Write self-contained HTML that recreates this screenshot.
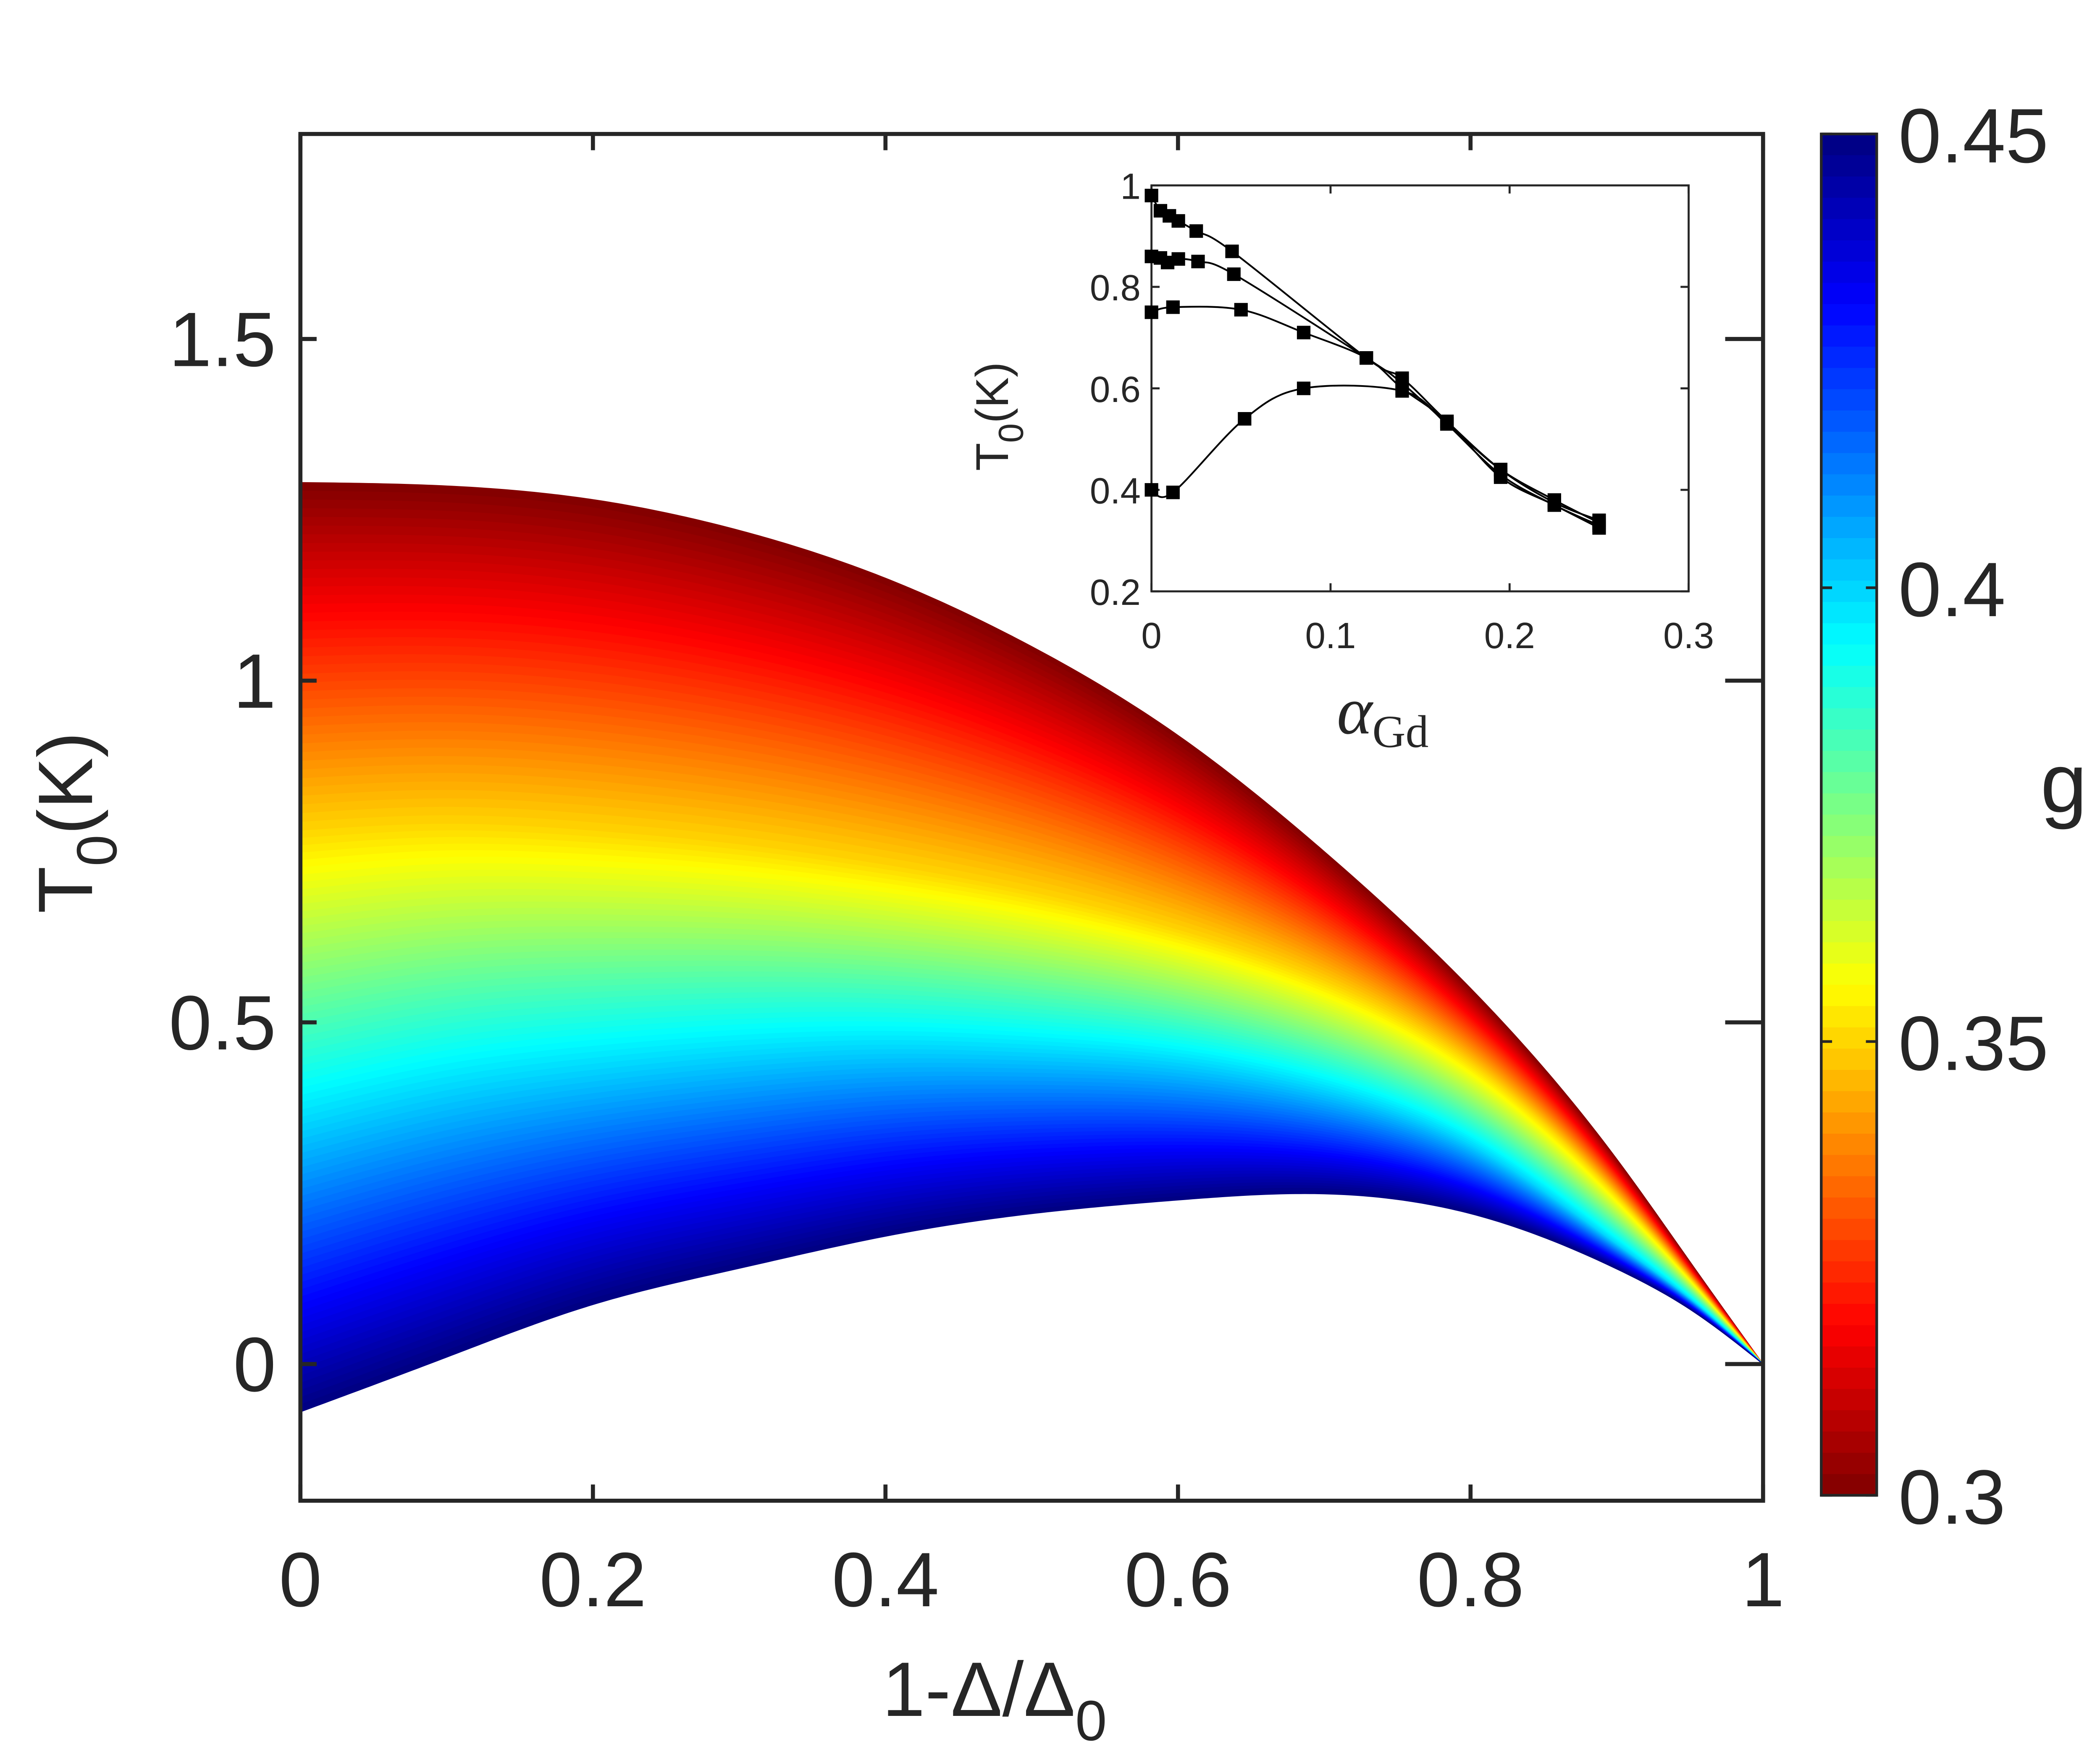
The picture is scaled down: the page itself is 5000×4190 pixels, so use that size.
<!DOCTYPE html>
<html><head><meta charset="utf-8">
<style>
html,body{margin:0;padding:0;background:#fff;}
svg{display:block;}
text{font-family:"Liberation Sans",sans-serif;fill:#262626;}
</style></head>
<body>
<svg id="chart" width="5000" height="4190" viewBox="0 0 1552 1300.6" xmlns="http://www.w3.org/2000/svg">
<g id="bands"></g>
<g id="axes"></g>
<g id="cbar"></g>
<g id="inset"></g>
</svg>
<script>
// ---- main chart data ----
const xSamples = [0,0.1,0.2,0.3,0.4,0.5,0.6,0.7,0.8,0.9,0.95,1];
const gLevels = [0.30,0.35,0.40,0.45];
const curveG30 = [1.29,1.285,1.265,1.22,1.15,1.05,0.92,0.75,0.55,0.30,0.15,0];
const curveG35 = [0.78,0.79,0.78,0.76,0.73,0.69,0.635,0.56,0.44,0.245,0.125,0];
const curveG40 = [0.35,0.40,0.43,0.45,0.46,0.455,0.44,0.40,0.32,0.175,0.095,0];
const curveG45 = [-0.07,0.01,0.087,0.14,0.187,0.22,0.24,0.249,0.22,0.139,0.08,0];
const xTicks = [0,0.2,0.4,0.6,0.8,1];
const xTickLabels = ["0","0.2","0.4","0.6","0.8","1"];
const yTicks = [0,0.5,1,1.5];
const yTickLabels = ["0","0.5","1","1.5"];
const cbTicks = [0.3,0.35,0.4,0.45];
const cbTickLabels = ["0.3","0.35","0.4","0.45"];
// ---- inset data ----
const insetXTicks = [0,0.1,0.2,0.3];
const insetXTickLabels = ["0","0.1","0.2","0.3"];
const insetYTicks = [0.2,0.4,0.6,0.8,1];
const insetYTickLabels = ["0.2","0.4","0.6","0.8","1"];
const seriesAx = [0,0.005,0.01,0.015,0.025,0.045,0.12,0.14,0.165,0.195,0.225,0.25];
const seriesAy = [0.98,0.95,0.94,0.93,0.91,0.87,0.66,0.62,0.535,0.44,0.375,0.34];
const seriesBx = [0,0.005,0.009,0.015,0.026,0.046,0.12,0.14,0.165,0.195,0.225,0.25];
const seriesBy = [0.86,0.857,0.848,0.855,0.85,0.825,0.66,0.61,0.53,0.43,0.37,0.33];
const seriesCx = [0,0.012,0.05,0.085,0.12,0.14,0.165,0.195,0.225,0.25];
const seriesCy = [0.75,0.76,0.755,0.71,0.66,0.6,0.535,0.425,0.37,0.325];
const seriesDx = [0,0.012,0.052,0.085,0.14,0.165,0.195,0.225,0.25];
const seriesDy = [0.40,0.395,0.54,0.60,0.595,0.53,0.44,0.38,0.335];

const NS="http://www.w3.org/2000/svg";
function mk(tag,attrs,parent){const e=document.createElementNS(NS,tag);for(const k in attrs)e.setAttribute(k,attrs[k]);parent.appendChild(e);return e;}
const L=222,R=1303,T=99,B=1109;
const xMin=0,xMax=1,yMin=-0.2,yMax=1.8;
const sx=v=>L+(v-xMin)/(xMax-xMin)*(R-L);
const sy=v=>B-(v-yMin)/(yMax-yMin)*(B-T);
function jet(t){
  const r=Math.min(Math.max(Math.min(4*t-1.5,-4*t+4.5),0),1);
  const g=Math.min(Math.max(Math.min(4*t-0.5,-4*t+3.5),0),1);
  const b=Math.min(Math.max(Math.min(4*t+0.5,-4*t+2.5),0),1);
  return `rgb(${Math.round(r*255)},${Math.round(g*255)},${Math.round(b*255)})`;
}
const curves=[curveG30,curveG35,curveG40,curveG45];
function curveVals(g){
  let k=0;while(k<gLevels.length-2&&g>gLevels[k+1])k++;
  const f=(g-gLevels[k])/(gLevels[k+1]-gLevels[k]);
  return curves[k].map((v,i)=>v*(1-f)+curves[k+1][i]*f);
}
function spline(xs,ys){
  const n=xs.length,h=[],a=[],l=[1],mu=[0],z=[0],c=new Array(n).fill(0),b=[],d=[];
  for(let i=0;i<n-1;i++)h[i]=xs[i+1]-xs[i];
  for(let i=1;i<n-1;i++)a[i]=3/h[i]*(ys[i+1]-ys[i])-3/h[i-1]*(ys[i]-ys[i-1]);
  for(let i=1;i<n-1;i++){l[i]=2*(xs[i+1]-xs[i-1])-h[i-1]*mu[i-1];mu[i]=h[i]/l[i];z[i]=(a[i]-h[i-1]*z[i-1])/l[i];}
  l[n-1]=1;z[n-1]=0;
  for(let j=n-2;j>=0;j--){c[j]=z[j]-mu[j]*c[j+1];b[j]=(ys[j+1]-ys[j])/h[j]-h[j]*(c[j+1]+2*c[j])/3;d[j]=(c[j+1]-c[j])/(3*h[j]);}
  return x=>{let j=0;while(j<n-2&&x>xs[j+1])j++;const dx=x-xs[j];return ys[j]+b[j]*dx+c[j]*dx*dx+d[j]*dx*dx*dx;};
}
function densePts(g,rev){
  const f=spline(xSamples,curveVals(g));const pts=[];
  for(let k=0;k<=300;k++){const x=k/300;pts.push(sx(x).toFixed(2)+','+sy(f(x)).toFixed(2));}
  return rev?pts.reverse():pts;
}
const bandsG=document.getElementById('bands');
const N=120,g0=gLevels[0],g1=gLevels[gLevels.length-1];
for(let j=0;j<N;j++){
  const ga=g0+(g1-g0)*j/N, gb=g0+(g1-g0)*(j+1)/N;
  const d='M'+densePts(ga,false).join(' L')+' L'+densePts(gb,true).join(' L')+' Z';
  const t=1-(j+0.5)/N;
  const p=mk('path',{d:d,fill:jet(t),stroke:jet(t),'stroke-width':0.6},bandsG);
  
  
}
const ax=document.getElementById('axes');
const frame=mk('rect',{x:L,y:T,width:R-L,height:B-T,fill:'none',stroke:'#262626','stroke-width':3},ax);


xTicks.forEach((v,i)=>{
  mk('line',{x1:sx(v),x2:sx(v),y1:B,y2:B-12,stroke:'#262626','stroke-width':3},ax);
  mk('line',{x1:sx(v),x2:sx(v),y1:T,y2:T+12,stroke:'#262626','stroke-width':3},ax);
  const t=mk('text',{x:sx(v),y:1187,'font-size':57,'text-anchor':'middle'},ax);
  t.textContent=xTickLabels[i];
  
  
});
yTicks.forEach((v,i)=>{
  mk('line',{x1:L,x2:L+12,y1:sy(v),y2:sy(v),stroke:'#262626','stroke-width':3},ax);
  mk('line',{x1:R,x2:R-28,y1:sy(v),y2:sy(v),stroke:'#262626','stroke-width':3},ax);
  const t=mk('text',{x:204,y:sy(v)+20,'font-size':57,'text-anchor':'end'},ax);
  t.textContent=yTickLabels[i];
  
  
});
const yl=mk('text',{x:0,y:0,'font-size':57,transform:'translate(68,675) rotate(-90)'},ax);
yl.innerHTML='T<tspan dy="18" font-size="42">0</tspan><tspan dy="-18">(K)</tspan>';


const xl=mk('text',{x:652,y:1268,'font-size':57},ax);
xl.innerHTML='1-Δ/Δ<tspan dy="18" font-size="42">0</tspan>';


// colorbar
const cb=document.getElementById('cbar');
const CL=1346,CR=1387,CT=99,CB=1105;
const cbs=v=>CB-(v-0.3)/(0.15)*(CB-CT);
const M=64;
for(let j=0;j<M;j++){
  const r=mk('rect',{x:CL,y:CT+(CB-CT)*j/M,width:CR-CL,height:(CB-CT)/M+0.6,fill:jet((j+0.5)/M)},cb);
  
  
}
mk('rect',{x:CL,y:CT,width:CR-CL,height:CB-CT,fill:'none',stroke:'#262626','stroke-width':2},cb);
cbTicks.forEach((v,i)=>{
  mk('line',{x1:CL,x2:CL+8,y1:cbs(v),y2:cbs(v),stroke:'#262626','stroke-width':2},cb);
  mk('line',{x1:CR,x2:CR-8,y1:cbs(v),y2:cbs(v),stroke:'#262626','stroke-width':2},cb);
  const t=mk('text',{x:1403,y:cbs(v)+21,'font-size':57},cb);
  t.textContent=cbTickLabels[i];
  
  
});
const gl=mk('text',{x:1508,y:600,'font-size':62},cb);
gl.textContent='g';


// inset
const ins=document.getElementById('inset');
const IL=851,IR=1248,IT=137,IB=437;
const ix=v=>IL+v/0.3*(IR-IL);
const iy=v=>IB-(v-0.2)/0.8*(IB-IT);
function smooth(pts){
  let d=`M${pts[0][0]},${pts[0][1]}`;
  for(let i=0;i<pts.length-1;i++){
    const p0=pts[Math.max(0,i-1)],p1=pts[i],p2=pts[i+1],p3=pts[Math.min(pts.length-1,i+2)];
    const c1=[p1[0]+(p2[0]-p0[0])/6,p1[1]+(p2[1]-p0[1])/6];
    const c2=[p2[0]-(p3[0]-p1[0])/6,p2[1]-(p3[1]-p1[1])/6];
    d+=` C${c1[0]},${c1[1]} ${c2[0]},${c2[1]} ${p2[0]},${p2[1]}`;
  }
  return d;
}
mk('rect',{x:IL,y:IT,width:IR-IL,height:IB-IT,fill:'#fff',stroke:'#262626','stroke-width':1.5},ins);
insetXTicks.forEach((v,i)=>{
  mk('line',{x1:ix(v),x2:ix(v),y1:IB,y2:IB-6,stroke:'#262626','stroke-width':1.5},ins);
  mk('line',{x1:ix(v),x2:ix(v),y1:IT,y2:IT+6,stroke:'#262626','stroke-width':1.5},ins);
  const t=mk('text',{x:ix(v),y:479,'font-size':27,'text-anchor':'middle'},ins);
  t.textContent=insetXTickLabels[i];
  
  
});
insetYTicks.forEach((v,i)=>{
  mk('line',{x1:IL,x2:IL+6,y1:iy(v),y2:iy(v),stroke:'#262626','stroke-width':1.5},ins);
  mk('line',{x1:IR,x2:IR-6,y1:iy(v),y2:iy(v),stroke:'#262626','stroke-width':1.5},ins);
  const t=mk('text',{x:843,y:iy(v)+10,'font-size':27,'text-anchor':'end'},ins);
  t.textContent=insetYTickLabels[i];
  
  
});
const iyl=mk('text',{x:0,y:0,'font-size':34,transform:'translate(745,348) rotate(-90)'},ins);
iyl.innerHTML='T<tspan dy="11" font-size="26">0</tspan><tspan dy="-11">(K)</tspan>';


const ixl=mk('text',{x:988,y:542,style:'font-family:"Liberation Serif",serif;font-style:italic;font-size:50px'},ins);
ixl.innerHTML='α<tspan dy="10" style="font-style:normal;font-size:34px">Gd</tspan>';


[[seriesAx,seriesAy],[seriesBx,seriesBy],[seriesCx,seriesCy],[seriesDx,seriesDy]].forEach(([xs,ys])=>{
  const pts=xs.map((x,i)=>[ix(x),iy(ys[i])]);
  const ln=mk('path',{d:smooth(pts),fill:'none',stroke:'#000','stroke-width':1.3},ins);
  
  
  pts.forEach(p=>{
    const m=mk('rect',{x:p[0]-5,y:p[1]-5,width:10,height:10,fill:'#000'},ins);
    
    
  });
});
</script>
</body></html>
